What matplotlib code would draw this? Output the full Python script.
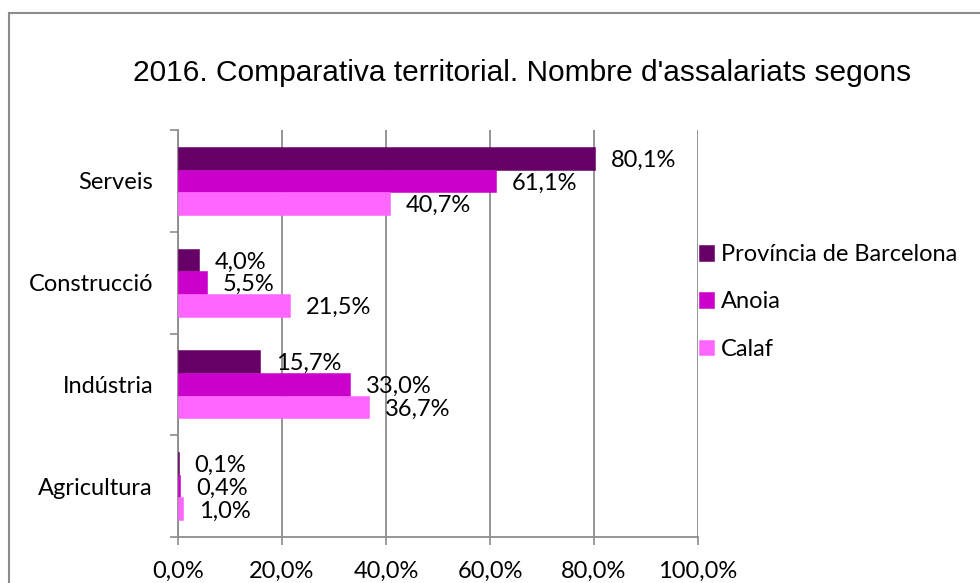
import numpy as np
import matplotlib
matplotlib.use("Agg")
import matplotlib.pyplot as plt
from matplotlib.lines import Line2D

# Data (bottom to top on the chart)
sectors = ["Agricultura", "Indústria", "Construcció", "Serveis"]
barcelona = [0.1, 15.7, 4.0, 80.1]
anoia = [0.4, 33.0, 5.5, 61.1]
calaf = [1.0, 36.7, 21.5, 40.7]
series_names = ["Província de Barcelona", "Anoia", "Calaf"]
colors = ["#660066", "#CC00CC", "#FF66FF"]
xticks = [0, 20, 40, 60, 80, 100]

title = "2016. Comparativa territorial. Nombre d'assalariats segons"

W, H = 980, 583
fig = plt.figure(figsize=(W / 100, H / 100), dpi=100)

def px(x0, y0, x1, y1):
    # pixel box -> figure fraction [left, bottom, width, height]
    return [x0 / W, 1 - y1 / H, (x1 - x0) / W, (y1 - y0) / H]

ax = fig.add_axes(px(178, 130, 698, 537))

grey = "#8c8c8c"
lab_font = "Lato"
fs = 17

y = np.arange(len(sectors))
h = 0.223
offsets = [h, 0, -h]
all_vals = [barcelona, anoia, calaf]
for vals, off, col, name in zip(all_vals, offsets, colors, series_names):
    bars = ax.barh(y + off, vals, height=h, color=col, edgecolor=col,
                   linewidth=0.4, label=name, zorder=3)
    for b, v in zip(bars, vals):
        ax.annotate(f"{v:.1f}%".replace(".", ","),
                    (b.get_width(), b.get_y() + b.get_height() / 2),
                    xytext=(11.5, -1.5), textcoords="offset points",
                    ha="left", va="center", fontsize=fs, family=lab_font,
                    color="black", zorder=4)

ax.set_xlim(0, 100)
ax.set_ylim(-0.5, len(sectors) - 0.5)

ax.set_xticks(xticks)
ax.set_xticklabels([f"{t:.1f}%".replace(".", ",") for t in xticks],
                   fontsize=fs, family=lab_font)
ax.tick_params(axis="x", length=6, width=1.2, color=grey, pad=11)

ax.set_yticks(y)
ax.set_yticklabels(sectors, fontsize=fs, family=lab_font)
ax.set_yticks(np.arange(-0.5, len(sectors)), minor=True)
ax.tick_params(axis="y", which="major", length=0, pad=18)
ax.tick_params(axis="y", which="minor", length=6, width=1.2, color=grey)

ax.grid(axis="x", color=grey, linewidth=1.3, zorder=0)
ax.set_axisbelow(True)
for s in ["top", "right"]:
    ax.spines[s].set_visible(False)
for s in ["left", "bottom"]:
    ax.spines[s].set_color(grey)
    ax.spines[s].set_linewidth(1.3)

fig.text(522 / W, 1 - 73 / H, title, ha="center", va="center",
         fontsize=21.5, family="Liberation Sans")

leg = fig.legend(loc="upper left", bbox_to_anchor=(699 / W, 1 - 244 / H),
                 frameon=False, prop={"family": lab_font, "size": fs},
                 handlelength=0.64, handleheight=0.64, handletextpad=0.3,
                 labelspacing=1.12, borderaxespad=0, borderpad=0)

# outer chart frame
fig.add_artist(Line2D([8.5 / W, 8.5 / W], [0, 1 - 12.5 / H],
                      transform=fig.transFigure, color=grey, linewidth=1.5))
fig.add_artist(Line2D([8.5 / W, 1], [1 - 12.5 / H, 1 - 12.5 / H],
                      transform=fig.transFigure, color=grey, linewidth=1.5))

fig.savefig("out.png", dpi=100)
